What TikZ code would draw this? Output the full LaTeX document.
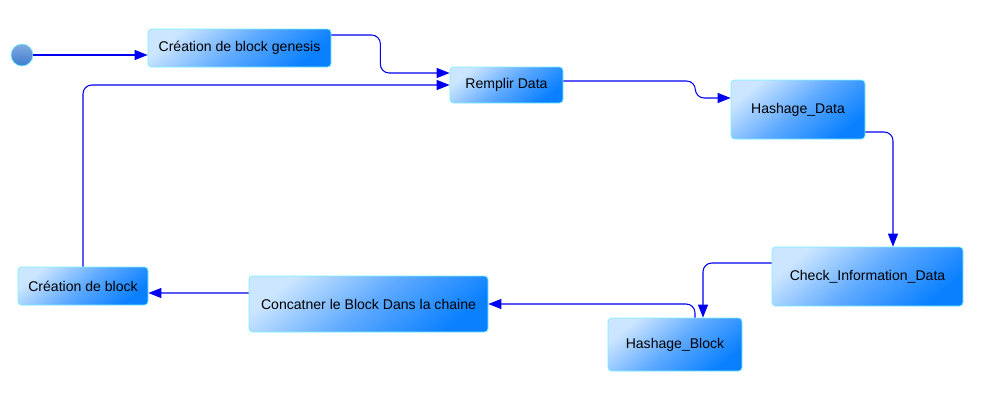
\documentclass[tikz,border=0pt]{standalone}
\usepackage{fontspec}
\setmainfont{Liberation Sans}
\usetikzlibrary{arrows.meta}
\definecolor{boxlight}{RGB}{205,230,255}
\definecolor{boxmid}{RGB}{95,170,255}
\definecolor{boxdark}{RGB}{10,128,255}
\definecolor{boxline}{RGB}{120,240,255}
\definecolor{flux}{RGB}{0,0,240}
\begin{document}
\begin{tikzpicture}
\tikzset{etat/.style={draw=boxline, rounded corners=2pt, top color=boxlight, bottom color=boxdark, middle color=boxmid, shading angle=40, font=\fontsize{8}{10}\selectfont, inner sep=0pt}}
\tikzset{fleche/.style={draw=flux, line width=0.6pt, rounded corners=5pt, -{Triangle[length=2.6mm,width=2mm]}}}
\useasboundingbox (0,0) rectangle (19.66,-8.30);
\node[circle, draw=boxline, top color={rgb,255:red,130;green,170;blue,225}, bottom color={rgb,255:red,60;green,125;blue,205}, minimum size=0.44cm, inner sep=0pt] (debut) at (0.44,-1.10) {};
\node[etat, minimum width=3.66cm, minimum height=0.76cm] (genesis) at (4.79,-0.96) {Création de block genesis};
\node[etat, minimum width=2.26cm, minimum height=0.72cm] (remplir) at (10.13,-1.70) {Remplir Data};
\node[etat, minimum width=2.68cm, minimum height=1.18cm] (hashdata) at (15.96,-2.19) {Hashage\_Data};
\node[etat, minimum width=3.82cm, minimum height=1.18cm] (check) at (17.35,-5.53) {Check\_Information\_Data};
\node[etat, minimum width=2.68cm, minimum height=1.06cm] (hashblock) at (13.50,-6.89) {Hashage\_Block};
\node[etat, minimum width=4.78cm, minimum height=1.12cm] (concat) at (7.37,-6.08) {Concatner le Block Dans la chaine};
\node[etat, minimum width=2.60cm, minimum height=0.76cm] (creation) at (1.66,-5.72) {Création de block};
\draw[fleche] (debut) -- (debut -| genesis.west);
\draw[fleche] ([yshift=2.6mm]genesis.east) -- ++(0.98,0) |- ([yshift=2.4mm]remplir.west);
\draw[fleche] (creation.north) |- (remplir.west);
\draw[fleche] ([yshift=0.8mm]remplir.east) -- ++(2.64,0) |- ([yshift=2.3mm]hashdata.west);
\draw[fleche] ([yshift=-4.5mm]hashdata.east) -| ([xshift=5.1mm]check.north);
\draw[fleche] ([yshift=2.7mm]check.west) -| ([xshift=5.6mm]hashblock.north);
\draw[fleche] ([xshift=4mm]hashblock.north) |- (concat.east);
\draw[fleche] ([yshift=2.2mm]concat.west) -- ([yshift=-1.4mm]creation.east);
\end{tikzpicture}
\end{document}
